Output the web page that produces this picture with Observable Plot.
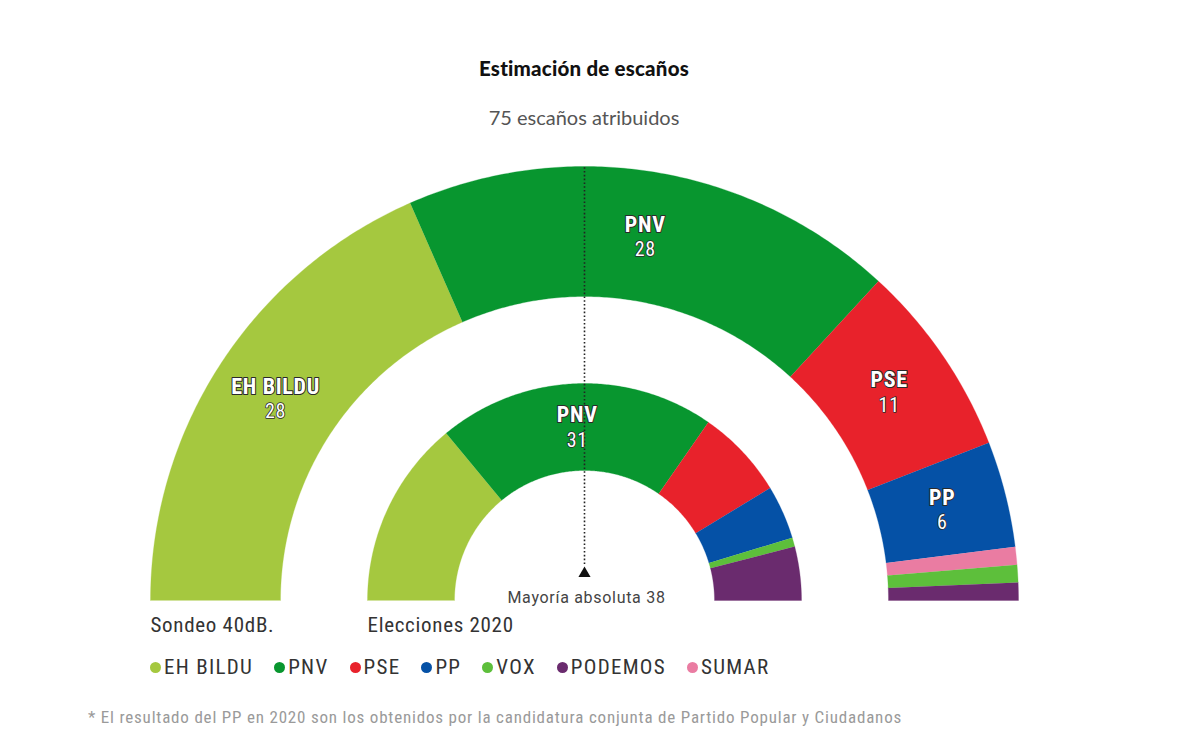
<!DOCTYPE html>
<html>
<head>
<meta charset="utf-8">
<script src="https://cdn.jsdelivr.net/npm/d3@7"></script>
<script src="https://cdn.jsdelivr.net/npm/@observablehq/plot@0.6"></script>
<style>
  html, body { margin: 0; padding: 0; background: #fff; }
  body { width: 1200px; height: 751px; position: relative; overflow: hidden; }
  .cond { font-family: "Liberation Sans Narrow", "Roboto Condensed", "DejaVu Sans Condensed", "Arial Narrow", sans-serif; font-stretch: condensed; }
  #title { position: absolute; left: 0; width: 1168px; top: 56px; line-height: 24px; text-align: center;
           font-family: Lato, "Open Sans", sans-serif; font-weight: 900; font-size: 20.5px; letter-spacing: 0.2px; color: #111; }
  #subtitle { position: absolute; left: 0; width: 1168px; top: 105px; line-height: 24px; text-align: center;
              font-family: Lato, "Open Sans", sans-serif; font-size: 20px; color: #555; }
  #chart { position: absolute; left: 0; top: 140px; }
  #chart svg text { letter-spacing: 0.7px; }
  #legend { position: absolute; left: 150px; top: 655px; height: 24px; display: flex; gap: 21px; align-items: center;
            font-size: 21px; letter-spacing: 1.3px; color: #333; }
  #legend .item { display: flex; align-items: center; gap: 3px; }
  #legend .sw { width: 11px; height: 11px; border-radius: 50%; display: inline-block; }
  #note { position: absolute; left: 88px; top: 706px; line-height: 22px; font-size: 17px; letter-spacing: 0.8px; color: #9a9a9a; }
</style>
</head>
<body>
<div id="title">Estimación de escaños</div>
<div id="subtitle"></div>
<div id="chart"></div>
<div id="legend" class="cond"></div>
<div id="note" class="cond">* El resultado del PP en 2020 son los obtenidos por la candidatura conjunta de Partido Popular y Ciudadanos</div>
<script>
// ---------- data ----------
const parties = ["EH BILDU", "PNV", "PSE", "PP", "VOX", "PODEMOS", "SUMAR"];
const partyColors = ["#a5c83f", "#08962f", "#e8222b", "#0551a6", "#5dbf3b", "#6a2b6e", "#ea7ca2"];

const sondeoParties = ["EH BILDU", "PNV", "PSE", "PP", "SUMAR", "VOX", "PODEMOS"];
const sondeoSeats   = [28, 28, 11, 6, 1, 1, 1];
const sondeoLabeled = ["EH BILDU", "PNV", "PSE", "PP"];

const eleccionesParties = ["EH BILDU", "PNV", "PSE", "PP", "VOX", "PODEMOS"];
const eleccionesSeats   = [21, 31, 10, 6, 1, 6];
const eleccionesLabeled = ["PNV"];

const ringNames = ["Sondeo 40dB.", "Elecciones 2020"];
const totalSeats = 75;
const majority = 38;

// ---------- geometry (ring radii in chart units) ----------
const rings = [
  {name: ringNames[0], parties: sondeoParties, seats: sondeoSeats, labeled: sondeoLabeled, r0: 304, r1: 434},
  {name: ringNames[1], parties: eleccionesParties, seats: eleccionesSeats, labeled: eleccionesLabeled, r0: 130, r1: 217}
];

const polys = [];
const labels = [];
const ringTitles = [];
rings.forEach((ring, ri) => {
  const sum = d3.sum(ring.seats);
  let acc = 0;
  ring.parties.forEach((p, i) => {
    const a0 = acc / sum * Math.PI;
    acc += ring.seats[i];
    const a1 = acc / sum * Math.PI;
    const key = ri + "-" + p;
    const n = Math.max(2, Math.ceil((a1 - a0) / (Math.PI / 360)));
    for (let k = 0; k <= n; k++) {
      const a = a0 + (a1 - a0) * k / n;
      polys.push({key, party: p, x: -ring.r1 * Math.cos(a), y: ring.r1 * Math.sin(a)});
    }
    for (let k = n; k >= 0; k--) {
      const a = a0 + (a1 - a0) * k / n;
      polys.push({key, party: p, x: -ring.r0 * Math.cos(a), y: ring.r0 * Math.sin(a)});
    }
    if (ring.labeled.includes(p)) {
      const am = (a0 + a1) / 2, rm = (ring.r0 + ring.r1) / 2;
      labels.push({party: p, seats: ring.seats[i], x: -rm * Math.cos(am), y: rm * Math.sin(am)});
    }
  });
  ringTitles.push({name: ring.name, x: -ring.r1, y: -25});
});

document.getElementById("subtitle").textContent = totalSeats + " escaños atribuidos";

const condFont = '"Liberation Sans Narrow", "Roboto Condensed", "DejaVu Sans Condensed", "Arial Narrow", sans-serif';

const chart = Plot.plot({
  width: 1200,
  height: 510,
  margin: 0,
  x: {domain: [-584, 616], range: [0, 1200], axis: null},
  y: {domain: [-50, 460], range: [510, 0], axis: null},
  color: {domain: parties, range: partyColors},
  style: {background: "transparent", overflow: "visible"},
  marks: [
    Plot.line(polys, {x: "x", y: "y", z: "key", fill: "party", stroke: "party", strokeWidth: 0.3, curve: "linear"}),
    Plot.ruleX([0], {y1: 36, y2: 434, stroke: "#222", strokeWidth: 1.6, strokeDasharray: "1.6,2.2"}),
    Plot.dot([0], {x: 0, y: 27, symbol: "triangle", r: 4.5, fill: "#111", stroke: "none"}),
    Plot.text([`Mayoría absoluta ${majority}`], {x: 0, y: 3, text: d => d, fontSize: 16, fill: "#444",
      fontFamily: "Roboto, 'Liberation Sans', sans-serif", dx: 2}),
    Plot.text(ringTitles, {x: "x", y: "y", text: "name", textAnchor: "start", fontSize: 21, fill: "#333",
      fontFamily: condFont}),
    Plot.text(labels, {x: "x", y: "y", text: "party", dy: -12, fontSize: 22, fontWeight: "bold", fill: "#fff",
      stroke: "#2a2a2a", strokeWidth: 2, paintOrder: "stroke", fontFamily: condFont}),
    Plot.text(labels, {x: "x", y: "y", text: d => String(d.seats), dy: 13, fontSize: 20, fill: "#fff",
      stroke: "#2a2a2a", strokeWidth: 1.6, paintOrder: "stroke", fontFamily: condFont})
  ]
});
document.getElementById("chart").appendChild(chart);

// legend
const legend = d3.select("#legend");
parties.forEach((p, i) => {
  const item = legend.append("div").attr("class", "item");
  item.append("span").attr("class", "sw").style("background", partyColors[i]);
  item.append("span").text(p);
});
</script>
</body>
</html>
